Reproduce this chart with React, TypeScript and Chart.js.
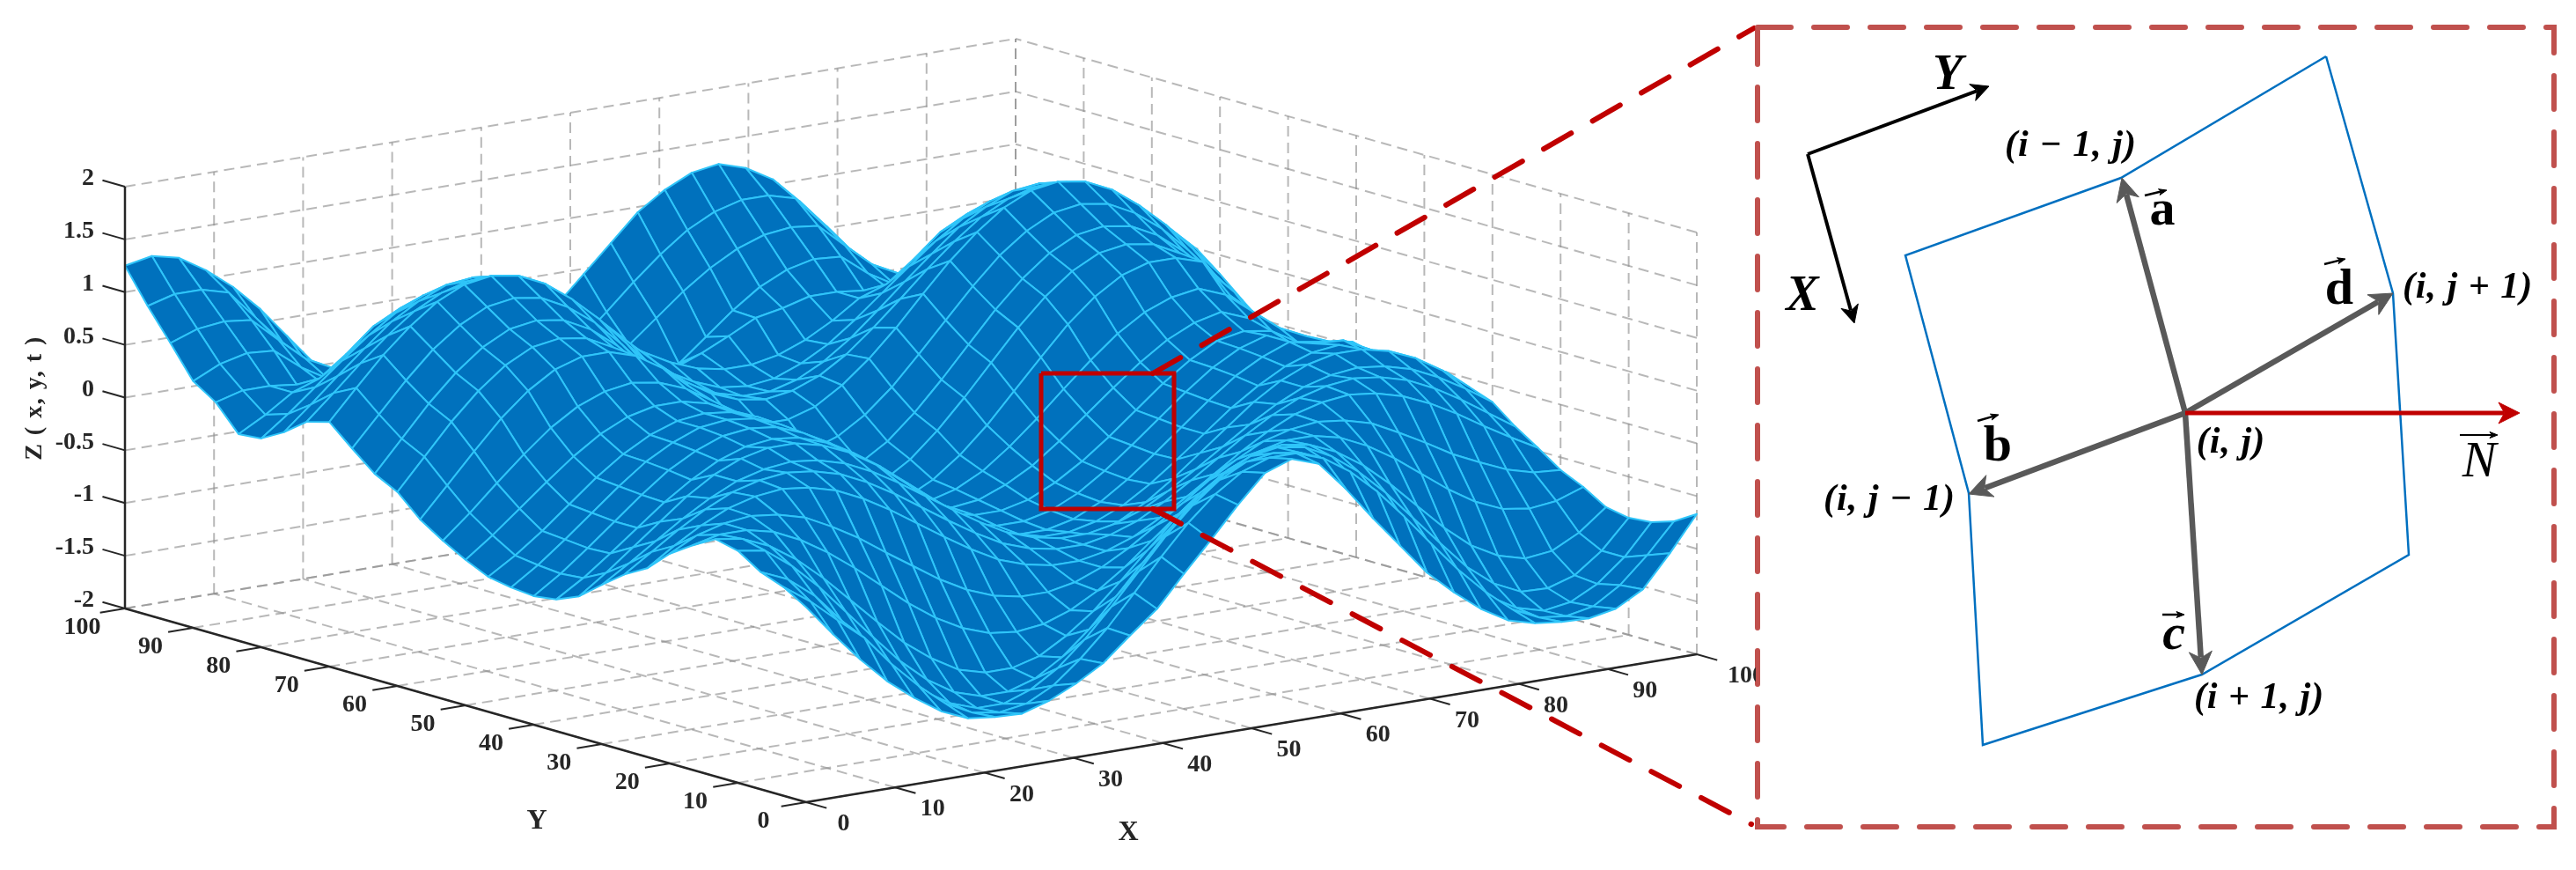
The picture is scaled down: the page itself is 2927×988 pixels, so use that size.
import React, { useEffect, useRef } from "react";
import { Chart, registerables } from "chart.js";

Chart.register(...registerables);

// Surface heights: one row for each Y mesh line (Y = 0 .. 100), one value for each X mesh line (X = 0 .. 100)
const zRow00 = [-.15,-.45,-.73,-.98,-1.18,-1.35,-1.46,-1.49,-1.5,-1.42,-1.3,-1.15,-.93,-.72,-.43,-.15,.14,.4,.49,.4,.12,-.2,-.5,-.8,-1.03,-1.23,-1.38,-1.45,-1.48,-1.49,-1.44,-1.3,-1,-.67];
const zRow01 = [-.02,-.2,-.42,-.63,-.92,-1.17,-1.38,-1.51,-1.55,-1.51,-1.38,-1.17,-.92,-.63,-.33,-.05,.18,.35,.44,.44,.35,.18,-.05,-.33,-.63,-.92,-1.17,-1.38,-1.5,-1.53,-1.48,-1.32,-1.08,-.8];
const zRow02 = [.06,-.05,-.25,-.53,-.82,-1.09,-1.32,-1.48,-1.57,-1.57,-1.48,-1.32,-1.09,-.82,-.53,-.24,.01,.21,.34,.38,.34,.21,.01,-.24,-.53,-.82,-1.09,-1.32,-1.47,-1.54,-1.5,-1.37,-1.16,-.87];
const zRow03 = [.2,.16,-.03,-.27,-.55,-.83,-1.1,-1.32,-1.48,-1.56,-1.56,-1.48,-1.32,-1.1,-.83,-.55,-.27,-.03,.16,.29,.33,.29,.16,-.03,-.27,-.55,-.83,-1.1,-1.3,-1.42,-1.43,-1.35,-1.16,-.89];
const zRow04 = [.25,.21,.1,-.07,-.29,-.54,-.79,-1.03,-1.22,-1.37,-1.44,-1.44,-1.37,-1.22,-1.03,-.79,-.54,-.29,-.07,.1,.21,.25,.21,.1,-.07,-.29,-.54,-.79,-1,-1.14,-1.21,-1.18,-1.05,-.85];
const zRow05 = [.13,.19,.19,.13,.01,-.15,-.34,-.55,-.76,-.94,-1.08,-1.17,-1.2,-1.17,-1.08,-.94,-.76,-.55,-.34,-.15,.01,.13,.19,.19,.13,.01,-.15,-.34,-.53,-.69,-.8,-.84,-.81,-.72];
const zRow06 = [-.01,.12,.19,.22,.19,.12,-.01,-.16,-.34,-.51,-.68,-.82,-.92,-.97,-.97,-.92,-.82,-.68,-.51,-.34,-.16,-.01,.12,.19,.22,.19,.12,-.01,-.15,-.3,-.42,-.53,-.6,-.62];
const zRow07 = [-.21,-.04,.11,.23,.3,.33,.3,.23,.11,-.04,-.21,-.38,-.54,-.68,-.77,-.82,-.82,-.77,-.68,-.54,-.38,-.21,-.04,.11,.23,.3,.33,.3,.23,.12,-.02,-.18,-.33,-.47];
const zRow08 = [-.33,-.16,.01,.16,.28,.35,.38,.35,.28,.16,.01,-.16,-.33,-.49,-.63,-.72,-.77,-.77,-.72,-.63,-.49,-.33,-.16,.01,.16,.28,.35,.38,.35,.28,.16,.01,-.16,-.33];
const zRow09 = [-.49,-.33,-.16,.01,.16,.28,.35,.38,.35,.28,.16,.01,-.16,-.33,-.49,-.63,-.72,-.77,-.77,-.72,-.63,-.49,-.33,-.16,.01,.16,.28,.35,.38,.35,.28,.16,.01,-.16];
const zRow10 = [-.66,-.48,-.28,-.08,.12,.28,.39,.45,.45,.39,.28,.12,-.08,-.28,-.48,-.66,-.8,-.89,-.92,-.89,-.8,-.66,-.48,-.28,-.08,.12,.28,.39,.45,.45,.39,.28,.12,-.08];
const zRow11 = [-.75,-.59,-.4,-.2,0,.17,.31,.4,.43,.4,.31,.17,0,-.2,-.4,-.59,-.75,-.86,-.92,-.92,-.86,-.75,-.59,-.4,-.2,0,.17,.31,.4,.43,.32,.21,.13,0];
const zRow12 = [-.78,-.61,-.41,-.2,.01,.2,.34,.44,.47,.44,.34,.2,.01,-.2,-.41,-.61,-.78,-.9,-.96,-.96,-.9,-.78,-.61,-.41,-.2,.01,.2,.34,.44,.38,.37,.24,.11,.01];
const zRow13 = [-.76,-.59,-.39,-.18,.03,.22,.36,.46,.49,.46,.36,.22,.03,-.18,-.39,-.59,-.76,-.88,-.94,-.94,-.88,-.76,-.59,-.39,-.18,.03,.22,.36,.44,.31,.29,.24,.1,.02];
const zRow14 = [-.72,-.56,-.37,-.16,.05,.23,.37,.46,.49,.46,.37,.23,.05,-.16,-.37,-.56,-.72,-.84,-.9,-.9,-.84,-.72,-.56,-.37,-.16,.05,.23,.37,.42,.38,.23,.19,.15,-.05];
const zRow15 = [-.62,-.43,-.22,-.01,.19,.36,.48,.54,.54,.48,.36,.19,-.01,-.22,-.43,-.62,-.76,-.86,-.89,-.86,-.76,-.62,-.43,-.22,-.01,.19,.36,.48,.54,.44,.24,.09,.09,-.05];
const zRow16 = [-.5,-.28,-.04,.19,.4,.56,.66,.7,.66,.56,.4,.19,-.04,-.28,-.5,-.69,-.82,-.89,-.89,-.82,-.69,-.5,-.28,-.04,.19,.4,.56,.66,.7,.6,.4,.2,.08,-.05];
const zRow17 = [-.36,-.08,.2,.47,.69,.85,.93,.93,.85,.69,.47,.2,-.08,-.36,-.6,-.79,-.92,-.96,-.92,-.79,-.6,-.36,-.08,.2,.47,.69,.85,.93,.93,.85,.49,.2,0,-.1];
const zRow18 = [-.16,.13,.42,.67,.87,1,1.04,1,.87,.67,.42,.13,-.16,-.43,-.66,-.82,-.91,-.91,-.82,-.66,-.43,-.16,.13,.42,.67,.87,1,1.04,1,.87,.67,.42,.03,-.16];
const zRow19 = [-.05,.24,.53,.78,.98,1.11,1.15,1.11,.98,.78,.53,.24,-.05,-.32,-.55,-.71,-.8,-.8,-.71,-.55,-.32,-.05,.24,.53,.78,.98,1.11,1.15,1.11,.98,.78,.53,.24,-.05];
const zRow20 = [.13,.41,.69,.94,1.13,1.26,1.3,1.26,1.13,.94,.69,.41,.13,-.14,-.36,-.52,-.61,-.61,-.52,-.36,-.14,.13,.41,.69,.94,1.13,1.26,1.3,1.26,1.13,.94,.69,.41,.13];
const zRow21 = [.32,.6,.87,1.1,1.29,1.41,1.45,1.41,1.29,1.1,.87,.6,.32,.07,-.14,-.3,-.38,-.38,-.3,-.14,.07,.32,.6,.87,1.1,1.29,1.41,1.45,1.41,1.29,1.1,.87,.6,.32];
const zRow22 = [.26,.49,.73,.95,1.14,1.27,1.34,1.34,1.27,1.14,.95,.73,.49,.26,.05,-.11,-.21,-.25,-.21,-.11,.05,.26,.49,.73,.95,1.14,1.27,1.34,1.34,1.27,1.14,.95,.73,.49];
const zRow23 = [.1,.32,.55,.77,.98,1.13,1.24,1.27,1.24,1.13,.98,.77,.55,.32,.1,-.08,-.21,-.28,-.28,-.21,-.08,.1,.32,.55,.77,.98,1.13,1.24,1.27,1.24,1.13,.98,.77,.55];
const zRow24 = [-.02,.17,.38,.59,.79,.96,1.08,1.14,1.14,1.08,.96,.79,.59,.38,.17,-.02,-.16,-.26,-.29,-.26,-.16,-.02,.17,.38,.59,.79,.96,1.08,1.14,1.14,1.08,.96,.79,.59];
const zRow25 = [-.04,.1,.27,.36,.55,.77,.9,.97,1,.97,.9,.77,.62,.45,.27,.1,-.04,-.14,-.19,-.19,-.14,-.04,.1,.27,.36,.55,.77,.9,.97,1,.97,.9,.77,.62];
const zRow26 = [.2,.27,.27,.24,.2,.3,.5,.7,.8,.75,.6,.45,.3,.1,-.05,-.15,-.2,-.2,-.1,.02,.15,.2,.27,.27,.24,.2,.3,.5,.7,.8,.75,.6,.45,.3];
const zRow27 = [.34,.46,.52,.5,.3,.15,.1,.05,-.05,-.26,-.45,-.61,-.73,-.79,-.79,-.73,-.61,-.45,-.26,-.05,.16,.34,.46,.52,.5,.3,.15,.1,.05,-.05,-.26,-.45,-.61,-.73];
const zRow28 = [.64,.73,.76,.73,.5,.28,.15,.05,-.1,-.29,-.45,-.57,-.63,-.63,-.57,-.45,-.29,-.1,.11,.32,.5,.64,.73,.76,.73,.5,.28,.15,.05,-.1,-.29,-.45,-.57,-.63];
const zRow29 = [.93,1,1,.93,.65,.37,.1,0,-.15,-.29,-.45,-.55,-.59,-.55,-.45,-.29,-.08,.15,.39,.61,.8,.93,1,1,.93,.65,.37,.1,0,-.15,-.29,-.45,-.55,-.59];
const zRow30 = [1.25,1.3,1.24,1.08,.88,.63,.33,.03,-.22,-.4,-.55,-.6,-.6,-.5,-.33,-.1,.2,.45,.7,.95,1.12,1.24,1.28,1.2,1.05,.8,.52,.2,-.1,-.3,-.5,-.58,-.58,-.55];
const surfaceZ = [zRow00,zRow01,zRow02,zRow03,zRow04,zRow05,zRow06,zRow07,zRow08,zRow09,zRow10,zRow11,zRow12,zRow13,zRow14,zRow15,zRow16,zRow17,zRow18,zRow19,zRow20,zRow21,zRow22,zRow23,zRow24,zRow25,zRow26,zRow27,zRow28,zRow29,zRow30];

const xTicks = [0,10,20,30,40,50,60,70,80,90,100];
const yTicks = [0,10,20,30,40,50,60,70,80,90,100];
const zTicks = [-2,-1.5,-1,-0.5,0,0.5,1,1.5,2];

// Schematic panel, in page units
const panelFrame = [[1997,31],[2902,31],[2902,939],[1997,939],[1997,31]];
const meshCell = [[2643,64],[2719,333],[2737,630],[2502,766],[2253,846],[2237,560],[2165,290],[2410,202],[2643,64]];
const cellCentre = [2483,469];
const vectorA = [2411,202];
const vectorB = [2237,561];
const vectorC = [2502,766];
const vectorD = [2719,333];
const normalTip = [2863,469];
const localOrigin = [2054,175];
const localY = [2260,98];
const localX = [2107,367];
const zoomBox = [[1183,424],[1334,424],[1334,578],[1183,578],[1183,424]];
const calloutTop = [[1310,424],[1993,32]];
const calloutBottom = [[1310,578],[1990,936]];
const overbars = [
  [[2437,222],[2462,216]],
  [[2247,478],[2271,471]],
  [[2457,698],[2482,698]],
  [[2641,300],[2665,294]],
  [[2795,494],[2838,494]],
];

const serif = '"Liberation Serif"';
const tickFont = `bold 28px ${serif}`;
const panelLabels = [
  { text: "(i − 1, j)", x: 2353, y: 166 },
  { text: "(i, j + 1)", x: 2804, y: 327 },
  { text: "(i, j − 1)", x: 2147, y: 568 },
  { text: "(i + 1, j)", x: 2567, y: 793 },
];
const vectorLabels = [
  { text: "a", x: 2457, y: 240, font: `bold 58px ${serif}` },
  { text: "b", x: 2270, y: 508, font: `bold 58px ${serif}` },
  { text: "c", x: 2470, y: 722, font: `italic bold 58px ${serif}` },
  { text: "d", x: 2658, y: 330, font: `bold 58px ${serif}` },
  { text: "N", x: 2817, y: 526, font: `italic 58px ${serif}` },
  { text: "X", x: 2048, y: 338, font: `italic bold 56px ${serif}` },
  { text: "Y", x: 2213, y: 87, font: `italic bold 56px ${serif}` },
];

const project = (x: number, y: number, z: number) => ({
  x: 916 + 10.12 * x - 7.74 * y,
  y: 911 - 1.68 * x - 2.2 * y - 119.75 * (z + 2),
});
const toPoints = (list: number[][]) => list.map(([x, y]) => ({ x, y }));

const line = (data: any[], color: string, width: number, extra: any = {}) => ({
  data, showLine: true, borderColor: color, borderWidth: width, pointRadius: 0, fill: false, ...extra,
});

function arrow(from: number[], to: number[], color: string, width: number, headLength: number, headHalf: number) {
  const dx = to[0] - from[0];
  const dy = to[1] - from[1];
  const len = Math.hypot(dx, dy);
  const ux = dx / len;
  const uy = dy / len;
  const at = (along: number, side: number) => ({ x: to[0] - ux * along - uy * side, y: to[1] - uy * along + ux * side });
  return [
    line([at(0, 0), at(headLength, headHalf), at(headLength * 0.72, 0), at(headLength, -headHalf), at(0, 0)], color, 1, { fill: "shape", backgroundColor: color }),
    line([{ x: from[0], y: from[1] }, at(headLength * 0.75, 0)], color, width),
  ];
}

function buildDatasets() {
  const sets: any[] = [];
  // first in the list is painted last
  const red = "#C00000";
  const panelRed = "#C0504D";
  sets.push(line(toPoints(panelFrame), panelRed, 6, { borderDash: [38, 26], borderCapStyle: "round", borderJoinStyle: "miter" }));
  overbars.forEach((b, i) => sets.push(...arrow(b[0], b[1], "#000000", i === 4 ? 2 : 2.5, 9, 3.5)));
  sets.push(...arrow(cellCentre, normalTip, red, 5, 24, 12));
  sets.push(...arrow(localOrigin, localY, "#000000", 4, 20, 10));
  sets.push(...arrow(localOrigin, localX, "#000000", 4, 20, 10));
  sets.push(...arrow(cellCentre, vectorA, "#595959", 6.5, 26, 13));
  sets.push(...arrow(cellCentre, vectorB, "#595959", 6.5, 26, 13));
  sets.push(...arrow(cellCentre, vectorC, "#595959", 6.5, 26, 13));
  sets.push(...arrow(cellCentre, vectorD, "#595959", 6.5, 26, 13));
  sets.push(line(toPoints(meshCell), "#0070C0", 2.5, { borderJoinStyle: "miter" }));
  sets.push(line(toPoints(zoomBox), red, 5, { borderJoinStyle: "miter" }));
  [calloutTop, calloutBottom].forEach((c) =>
    sets.push(line(toPoints(c), red, 6, { borderDash: [36, 28], borderCapStyle: "round" })));

  // axes
  const axisColor = "#262626";
  sets.push(line([project(0, 100, -2), project(0, 100, 2)], axisColor, 2.5));
  sets.push(line([project(0, 100, -2), project(0, 0, -2)], axisColor, 2.5));
  sets.push(line([project(0, 0, -2), project(100, 0, -2)], axisColor, 2.5));
  zTicks.forEach((z) => sets.push(line([project(0, 100, z), project(0, 103.3, z)], axisColor, 2)));
  yTicks.forEach((y) => sets.push(line([project(0, y, -2), project(-2.8, y, -2)], axisColor, 2)));
  xTicks.forEach((x) => sets.push(line([project(x, 0, -2), project(x, -3, -2)], axisColor, 2)));

  // surface: nearest cell first, so that it is painted over the ones behind
  const rows = surfaceZ.length - 1;
  const cols = surfaceZ[0].length - 1;
  const xOf = (i: number) => (i * 100) / cols;
  const yOf = (j: number) => (j * 100) / rows;
  for (let sum = 0; sum <= rows + cols; sum++) {
    for (let j = 0; j < rows; j++) {
      const i = sum - j;
      if (i < 0 || i >= cols) continue;
      const p = (a: number, b: number) => project(xOf(a), yOf(b), surfaceZ[b][a]);
      sets.push(line([p(i, j), p(i + 1, j), p(i + 1, j + 1), p(i, j + 1), p(i, j)], "#2FC5F9", 2, {
        fill: "shape", backgroundColor: "#0071BD", borderJoinStyle: "round",
      }));
    }
  }

  // walls and floor
  const grid = "rgba(140,140,140,0.62)";
  const gridLine = (a: any, b: any) => sets.push(line([a, b], grid, 2, { borderDash: [12, 7] }));
  xTicks.forEach((x) => { gridLine(project(x, 100, -2), project(x, 100, 2)); gridLine(project(x, 0, -2), project(x, 100, -2)); });
  yTicks.forEach((y) => { gridLine(project(100, y, -2), project(100, y, 2)); gridLine(project(0, y, -2), project(100, y, -2)); });
  zTicks.forEach((z) => { gridLine(project(0, 100, z), project(100, 100, z)); gridLine(project(100, 0, z), project(100, 100, z)); });
  return sets;
}

const textPlugin = {
  id: "figureText",
  afterDatasetsDraw(chart: any) {
    const ctx = chart.ctx;
    const put = (text: string, x: number, y: number, font: string, align = "center", color = "#262626", spacing = "0px") => {
      ctx.save();
      ctx.font = font;
      ctx.fillStyle = color;
      ctx.textAlign = align;
      ctx.textBaseline = "middle";
      ctx.letterSpacing = spacing;
      ctx.fillText(text, x, y);
      ctx.restore();
    };
    zTicks.forEach((z) => put(String(z), 107, project(0, 100, z).y - 9, tickFont, "right"));
    yTicks.forEach((y) => { const p = project(0, y, -2); put(String(y), p.x - 48.5, p.y + 22, tickFont); });
    xTicks.forEach((x) => {
      const p = project(x, 0, -2);
      if (x < 100) { put(String(x), p.x + 42.5, p.y + 25, tickFont); return; }
      ctx.save();
      ctx.beginPath();
      ctx.rect(1900, 700, 95, 120);
      ctx.clip();
      put(String(x), 1963, p.y + 25, tickFont, "left");
      ctx.restore();
    });
    put("Y", 610, 933, `bold 32px ${serif}`);
    put("X", 1282, 946, `bold 32px ${serif}`);
    ctx.save();
    ctx.translate(40, 452);
    ctx.rotate(-Math.PI / 2);
    put("Z ( x, y, t )", 0, 0, `bold 28px ${serif}`, "center", "#262626", "1.5px");
    ctx.restore();
    panelLabels.forEach((l) => put(l.text, l.x, l.y, `italic bold 42px ${serif}`, "center", "#000000", "1px"));
    put("(i, j)", 2535, 503, `italic bold 42px ${serif}`, "center", "#000000", "1px");
    vectorLabels.forEach((l) => put(l.text, l.x, l.y, l.font, "center", "#000000"));
  },
};

export default function App() {
  const ref = useRef<HTMLCanvasElement | null>(null);
  useEffect(() => {
    const chart = new Chart(ref.current as HTMLCanvasElement, {
      type: "scatter",
      data: { datasets: buildDatasets() },
      options: {
        animation: false,
        responsive: false,
        devicePixelRatio: 1,
        events: [],
        layout: { padding: 0 },
        plugins: { legend: { display: false }, tooltip: { enabled: false }, title: { display: false } },
        scales: {
          x: { type: "linear", min: 0, max: 2927, display: false },
          y: { type: "linear", min: 0, max: 988, reverse: true, display: false },
        },
      },
      plugins: [textPlugin],
    } as any);
    return () => chart.destroy();
  }, []);
  return (
    <div style={{ position: "fixed", left: 0, top: 0, width: 2927, height: 988, background: "#fff" }}>
      <canvas ref={ref} width={2927} height={988} style={{ display: "block", width: 2927, height: 988 }} />
    </div>
  );
}
